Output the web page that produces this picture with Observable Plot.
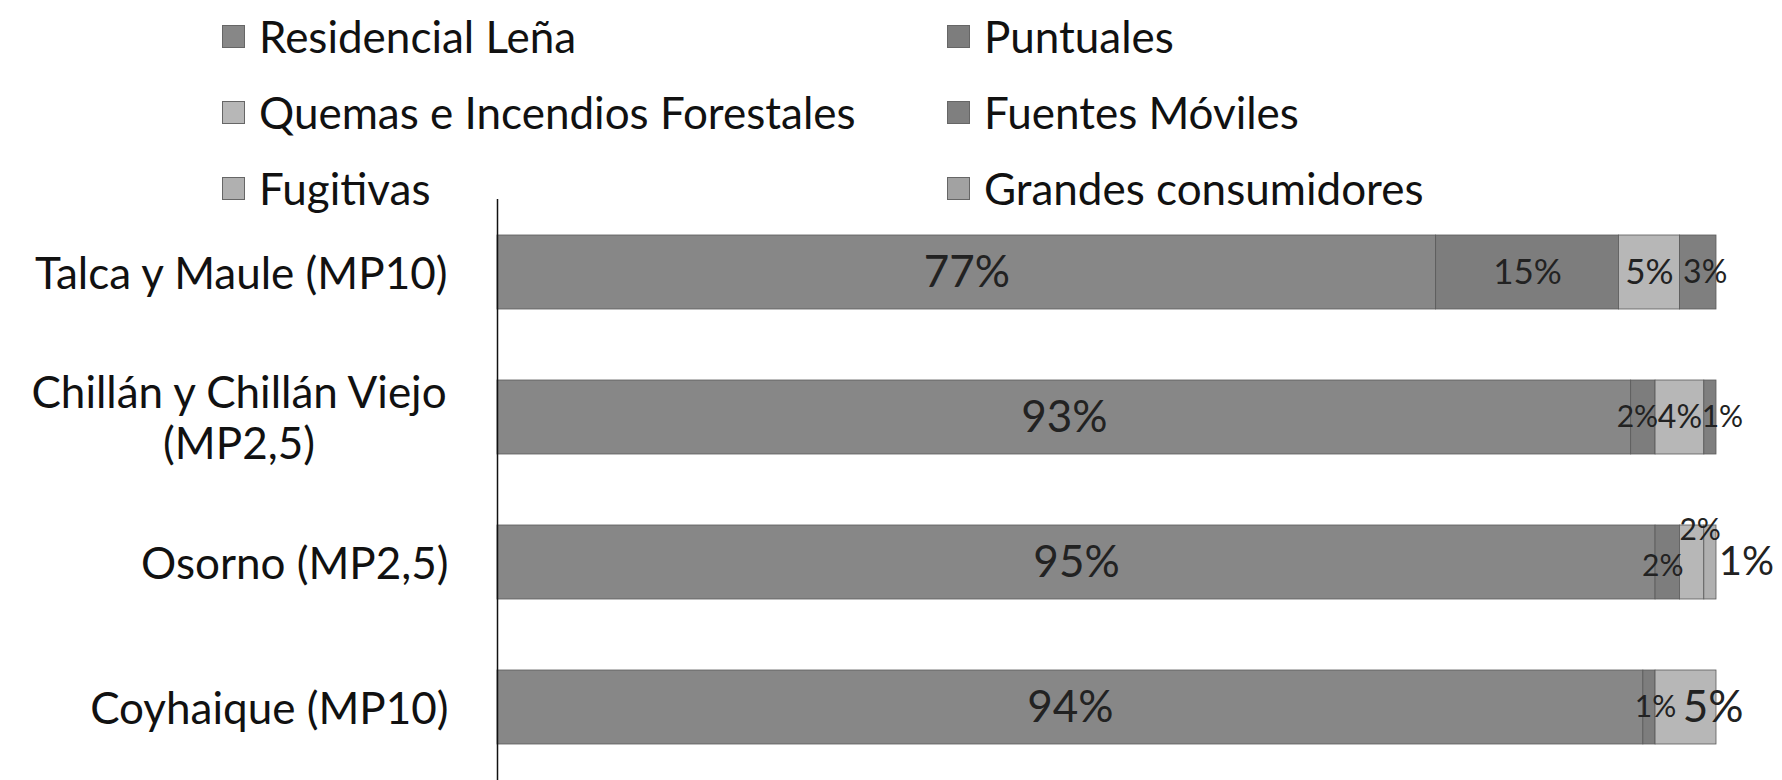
<!DOCTYPE html>
<html>
<head>
<meta charset="utf-8">
<script src="https://cdn.jsdelivr.net/npm/d3@7"></script>
<script src="https://cdn.jsdelivr.net/npm/@observablehq/plot@0.6"></script>
<style>
  html, body { margin: 0; padding: 0; background: #fff; }
  #wrap { position: relative; width: 1782px; height: 780px; font-family: Lato, sans-serif; }
  #legend { position: absolute; left: 222px; top: 12px; display: grid;
    grid-template-columns: 725px 640px; grid-auto-rows: 76px; color: #111; font-size: 44px; }
  .item { display: flex; align-items: center; height: 48px; white-space: nowrap; }
  .sw { width: 23px; height: 23px; margin-right: 14px; border: 1px solid #666; box-sizing: border-box; }
  #chart { position: absolute; left: 0; top: 0; }
</style>
</head>
<body>
<div id="wrap"><div id="chart"></div><div id="legend"></div></div>
<script>
// ---- data ----
const regions = ["Talca y Maule (MP10)", "Chillán y Chillán Viejo\n(MP2,5)", "Osorno (MP2,5)", "Coyhaique (MP10)"];
const sources = ["Residencial Leña", "Puntuales", "Quemas e Incendios Forestales", "Fuentes Móviles", "Fugitivas", "Grandes consumidores"];
const residencialLena   = [77, 93, 95, 94];
const puntuales         = [15, 2, 2, 1];
const quemasIncendios   = [5, 4, 2, 5];
const fuentesMoviles    = [3, 1, 0, 0];
const fugitivas         = [0, 0, 1, 0];
const grandesConsum     = [0, 0, 0, 0];
const sourceColors = ["#878787", "#7d7d7d", "#b7b7b7", "#7f7f7f", "#b0b0b0", "#a2a2a2"];

// label styling (font size, nudges in px) per [region, source]
const labelStyle = [
  [0, 0, 44, 0, 0], [0, 1, 35, 0, 0], [0, 2, 35, 0, 0], [0, 3, 32, 7, 0],
  [1, 0, 44, 0, 0], [1, 1, 30, -6, 0], [1, 2, 32, 0, 0], [1, 3, 30, 12, 0],
  [2, 0, 44, 0, 0], [2, 1, 30, -5, 4], [2, 2, 30, 8, -32], [2, 4, 40, 36, 0],
  [3, 0, 44, 0, 0], [3, 1, 30, 6, 0], [3, 2, 44, 27, 0]
];

// ---- build table ----
const series = [residencialLena, puntuales, quemasIncendios, fuentesMoviles, fugitivas, grandesConsum];
const rows = [];
regions.forEach((r, i) => {
  let acc = 0;
  sources.forEach((s, j) => {
    const v = series[j][i];
    rows.push({region: r, source: s, value: v, x1: acc, x2: acc + v, ri: i, si: j});
    acc += v;
  });
});

const font = "Lato, sans-serif";
const axisFont = 44;
const ctx = document.createElement("canvas").getContext("2d");
ctx.font = `${axisFont}px ${font}`;

const labelMarks = labelStyle.map(([ri, si, fs, dx, dy]) => {
  const d = rows.find(r => r.ri === ri && r.si === si);
  return Plot.text([d], {
    x: r => (r.x1 + r.x2) / 2, y: "region", text: r => `${r.value}%`,
    fontSize: fs, dx, dy, fill: "#222", fontFamily: font
  });
});

const axisLabelMarks = regions.map(r => {
  const w = d3.max(r.split("\n"), l => ctx.measureText(l).width);
  return Plot.text([r], {
    x: 0, y: d => d, text: d => d, textAnchor: "middle", lineHeight: 1.14,
    dx: -(49 + w / 2), fontSize: axisFont, fill: "#111", fontFamily: font
  });
});

const chart = Plot.plot({
  width: 1782,
  height: 780,
  marginLeft: 497,
  marginRight: 66,
  marginTop: 199,
  marginBottom: 0,
  style: {fontFamily: font, background: "transparent"},
  x: {domain: [0, 100], axis: null},
  y: {domain: regions, axis: null, paddingInner: 0.49, paddingOuter: 0.245},
  color: {domain: sources, range: sourceColors},
  marks: [
    Plot.barX(rows.filter(d => d.value > 0), {
      x1: "x1", x2: "x2", y: "region", fill: "source",
      stroke: "#5a5a5a", strokeWidth: 0.8
    }),
    Plot.ruleX([0], {stroke: "#111", strokeWidth: 1.5}),
    ...axisLabelMarks,
    ...labelMarks
  ]
});
document.getElementById("chart").appendChild(chart);

// ---- legend ----
const legend = document.getElementById("legend");
sources.forEach((s, j) => {
  const it = document.createElement("div");
  it.className = "item";
  const sw = document.createElement("span");
  sw.className = "sw";
  sw.style.background = sourceColors[j];
  const tx = document.createElement("span");
  tx.textContent = s;
  it.appendChild(sw); it.appendChild(tx);
  legend.appendChild(it);
});
</script>
</body>
</html>
